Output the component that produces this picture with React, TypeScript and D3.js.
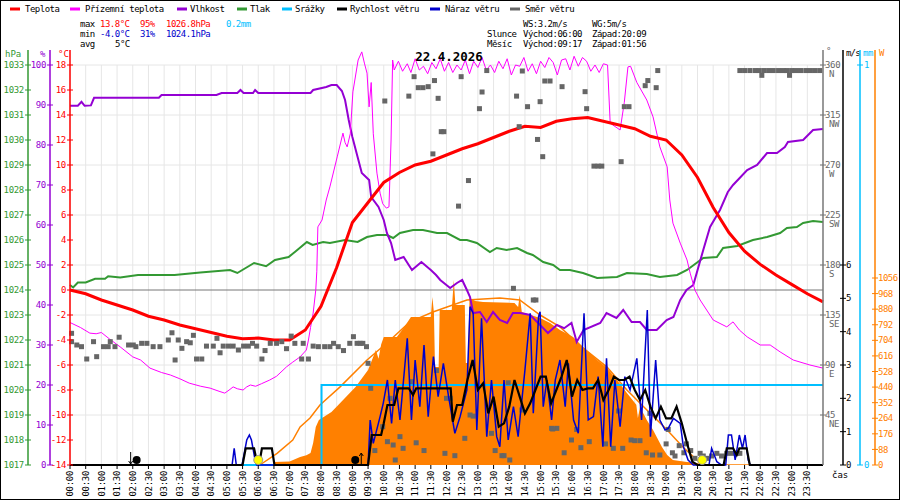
import React from "react";
import * as d3 from "d3";

type P = [number, number];

// times are minutes after midnight
const tempMin = d3.range(0, 1441, 30);
const tempC = [0, -0.3, -0.8, -1.2, -1.6, -2.1, -2.4, -2.8, -3.1, -3.4, -3.7, -3.9, -3.85, -4.0, -4.0, -3.2, -1.3, 1.8, 5.4, 7.0, 8.6, 9.4, 10.0, 10.3, 10.8, 11.3, 11.7, 12.2, 12.7, 13.1, 13.0, 13.5, 13.7, 13.8, 13.5, 13.2, 12.9, 12.3, 12.0, 10.8, 9.0, 6.6, 4.6, 3.1, 2.05, 1.2, 0.45, -0.3, -0.95];

const groundTemp: P[] = [
  [0, -2.6], [20, -3.0], [38, -3.45], [50, -3.5], [60, -3.4], [75, -3.9], [96, -4.55], [120, -5.35], [135, -5.6], [153, -6.25],
  [175, -6.6], [192, -6.8], [210, -7.1], [228, -7.45], [250, -7.7], [268, -7.85], [285, -8.1], [296, -8.25], [306, -7.95], [312, -7.75],
  [320, -7.9], [331, -8.0], [338, -7.75], [345, -7.6], [355, -7.7], [366, -7.5], [382, -7.2], [395, -6.9], [414, -6.15], [425, -5.8],
  [440, -5.35], [452, -4.8], [456, -4.0], [460, -3.0], [465, -1.85], [470, 0.0], [472, 1.5], [474, 5.05], [482, 5.6], [490, 7.2],
  [497, 8.25], [511, 10.65], [522, 12.55], [526, 11.8], [530, 11.45], [536, 12.5], [541, 15.85], [551, 18.4], [558, 19.05], [563, 18.15],
  [568, 17.35], [572, 14.65], [576, 16.6], [580, 12.5], [587, 9.35], [593, 7.75], [598, 6.9], [605, 6.55], [610, 6.65], [614, 12.0],
  [617, 18.4], [620, 17.6], [628, 18.3], [636, 17.5], [645, 18.1], [652, 17.4], [660, 18.5], [668, 17.6], [676, 17.9], [684, 17.3],
  [692, 18.2], [700, 17.7], [708, 18.5], [716, 17.5], [724, 18.2], [732, 17.4], [740, 18.0], [748, 17.6], [756, 18.4], [764, 17.3],
  [772, 18.3], [780, 17.8], [788, 18.6], [796, 17.6], [804, 18.0], [812, 17.4], [820, 18.3], [828, 17.7], [836, 18.5], [844, 17.2],
  [852, 18.0], [860, 17.9], [868, 18.6], [876, 17.5], [884, 18.1], [892, 17.3], [900, 18.3], [908, 17.8], [916, 18.6], [924, 18.2],
  [932, 17.2], [940, 18.4], [948, 18.5], [956, 17.6], [964, 18.7], [972, 17.9], [980, 18.6], [988, 18.3], [996, 17.5], [1004, 18.0],
  [1012, 17.4], [1020, 18.1], [1028, 18.0], [1033, 13.35], [1052, 12.8], [1060, 15.0], [1067, 17.85], [1072, 17.9], [1084, 16.6], [1103, 15.2],
  [1115, 13.85], [1128, 11.45], [1142, 9.85], [1147, 7.2], [1153, 5.35], [1167, 3.75], [1180, 2.4], [1186, 1.35], [1195, 0], [1205, -0.8],
  [1230, -2.4], [1256, -2.95], [1268, -2.55], [1280, -3.2], [1295, -3.75], [1320, -4.4], [1339, -4.4], [1358, -4.95], [1383, -5.6], [1415, -6.0],
  [1440, -6.25],
];

const humidity: P[] = [
  [0, 89.8], [15, 89.8], [22, 90.8], [28, 89.8], [40, 89.9], [46, 91.8], [170, 91.8], [175, 92.5], [280, 92.5], [290, 93.0],
  [320, 93.0], [326, 93.75], [332, 93.0], [350, 93.0], [354, 93.75], [360, 93.0], [460, 93.0], [465, 93.75], [490, 94.5], [500, 95],
  [510, 95], [520, 93.5], [526, 91.25], [533, 86.25], [540, 82], [550, 77], [558, 73], [572, 71.25], [576, 67], [590, 64.5],
  [600, 61.25], [606, 58], [614, 55.5], [622, 51.25], [638, 52], [654, 48.75], [672, 50.75], [690, 48.75], [700, 47.5], [708, 46.25],
  [727, 44.25], [740, 45.5], [750, 46.25], [759, 43.75], [765, 42], [771, 38], [784, 38.25], [797, 35.75], [809, 38.25], [822, 36.25],
  [836, 35.5], [847, 38], [861, 38], [880, 37.5], [899, 35], [914, 33], [931, 35], [945, 34.2], [959, 35.5], [969, 30.75],
  [982, 33.75], [1014, 35.5], [1026, 38], [1045, 36.75], [1058, 38.75], [1074, 35.75], [1090, 35.75], [1103, 33.75], [1122, 33.75], [1141, 36.25],
  [1154, 37], [1167, 41.25], [1179, 43.75], [1192, 45], [1211, 53.75], [1224, 59.5], [1243, 63.75], [1258, 68.25], [1268, 70], [1295, 73.75],
  [1314, 75], [1333, 78], [1352, 78], [1367, 79.5], [1373, 80.75], [1402, 81.25], [1421, 83.75], [1440, 84],
];

const pressure: P[] = [
  [0, 1024.2], [6, 1024.1], [15, 1024.3], [30, 1024.3], [48, 1024.45], [67, 1024.45], [73, 1024.55], [96, 1024.5], [130, 1024.6], [200, 1024.6],
  [249, 1024.7], [306, 1024.8], [320, 1024.68], [352, 1025.08], [375, 1024.95], [392, 1025.2], [418, 1025.32], [430, 1025.52], [453, 1025.92], [464, 1025.8],
  [484, 1025.92], [497, 1025.88], [526, 1026.0], [550, 1025.92], [568, 1026.12], [587, 1026.2], [606, 1026.2], [618, 1026.08], [631, 1026.28], [656, 1026.4],
  [675, 1026.4], [702, 1026.28], [721, 1026.28], [746, 1026.0], [759, 1026.0], [778, 1025.88], [803, 1025.52], [816, 1025.68], [835, 1025.6], [855, 1025.68],
  [874, 1025.48], [885, 1025.4], [905, 1025.12], [924, 1025.0], [937, 1024.8], [956, 1024.8], [981, 1024.68], [1008, 1024.48], [1046, 1024.52], [1065, 1024.68],
  [1103, 1024.64], [1128, 1024.52], [1161, 1024.6], [1180, 1024.8], [1211, 1025.28], [1237, 1025.32], [1249, 1025.68], [1276, 1025.76], [1306, 1026.0], [1333, 1026.12],
  [1358, 1026.28], [1371, 1026.48], [1390, 1026.52], [1402, 1026.68], [1421, 1026.76], [1440, 1026.72],
];

const rain: P[] = [[0, 0], [481, 0.2], [1440, 0.2]];

const windSpeed: P[] = [
  [0, 0], [330, 0], [336, 0.5], [352, 0.5], [358, 0.05], [362, 0.05], [367, 0.5], [386, 0.5], [391, 0], [570, 0],
  [577, 0.9], [595, 0.9], [600, 1.25], [607, 1.8], [620, 1.8], [628, 2.3], [648, 2.3], [656, 2.1], [662, 2.3], [728, 2.3],
  [732, 1.3], [740, 1.8], [750, 1.8], [760, 2.55], [770, 3.15], [780, 2.25], [790, 2.45], [800, 1.55], [810, 2.05], [820, 1.15],
  [830, 1.25], [840, 1.75], [850, 2.55], [860, 2.05], [870, 1.55], [880, 1.85], [890, 2.25], [900, 2.65], [910, 2.65], [920, 1.85],
  [930, 2.25], [940, 2.65], [950, 3.15], [960, 2.05], [970, 2.55], [980, 2.25], [990, 2.3], [1000, 2.3], [1010, 2.55], [1020, 1.95],
  [1030, 2.25], [1040, 2.65], [1050, 2.55], [1060, 2.55], [1070, 2.65], [1080, 2.25], [1090, 1.95], [1100, 2.25], [1110, 1.75], [1120, 1.4],
  [1130, 1.75], [1140, 1.4], [1150, 1.4], [1160, 1.75], [1170, 1.25], [1180, 0.65], [1190, 0.1], [1200, 0], [1250, 0], [1256, 0.5],
  [1268, 0.5], [1275, 0.3], [1280, 0.5], [1294, 0.5], [1300, 0], [1440, 0],
];

const windGust: P[] = [
  [0, 0], [310, 0], [314, 0.5], [318, 0], [329, 0], [338, 0.75], [343, 0.9], [347, 0.75], [354, 0.15], [357, 0],
  [570, 0], [574, 1.35], [580, 0.65], [593, 1.45], [599, 1.85], [607, 2.55], [615, 1.25], [622, 2.55], [631, 1.35], [645, 3.8],
  [653, 1.35], [660, 3.15], [669, 1.75], [677, 3.6], [685, 1.45], [695, 3.25], [704, 2.05], [714, 3.05], [724, 2.05], [736, 0.95],
  [746, 1.45], [759, 2.25], [765, 4.75], [771, 4.55], [778, 1.05], [787, 4.4], [797, 0.85], [806, 2.55], [816, 0.85], [822, 0.55],
  [830, 2.55], [838, 0.75], [848, 1.75], [857, 0.85], [870, 2.85], [880, 4.55], [886, 1.55], [896, 4.45], [899, 4.6], [905, 1.75],
  [912, 2.55], [921, 1.35], [928, 2.55], [937, 3.15], [947, 1.75], [953, 3.05], [963, 1.35], [972, 0.95], [983, 4.55], [991, 1.35],
  [1001, 1.45], [1010, 2.65], [1019, 0.55], [1026, 3.2], [1034, 0.55], [1042, 2.55], [1052, 1.15], [1061, 2.65], [1071, 2.25], [1084, 3.2],
  [1093, 1.35], [1104, 4.65], [1110, 0.85], [1120, 3.15], [1128, 1.35], [1138, 1.05], [1144, 1.1], [1154, 1.4], [1167, 1.25], [1173, 0.55],
  [1182, 0.15], [1192, 0], [1222, 0], [1227, 0.5], [1237, 0.1], [1246, 0], [1254, 0], [1259, 0.9], [1265, 0.9], [1272, 0.15],
  [1280, 0.9], [1286, 0.5], [1291, 0.9], [1297, 0.15], [1301, 0], [1440, 0],
];

const windDir: P[] = [
  [3, 118.5], [3, 111], [13, 108], [22, 106.5], [32, 95.4], [45, 111], [51, 97.5], [64, 106.5], [73, 106.5], [77, 111],
  [86, 106.5], [94, 115], [112, 108], [121, 108], [126, 106.5], [137, 109.5], [147, 109.5], [159, 106.5], [172, 106.5], [188, 112.5],
  [195, 119], [201, 94.5], [207, 112.5], [214, 105], [223, 111], [230, 110], [236, 116.7], [242, 95.4], [252, 95.4], [261, 107],
  [274, 107], [281, 114], [287, 101], [293, 107], [303, 107], [312, 107], [322, 103.5], [332, 107], [341, 107], [349, 109.5],
  [357, 107], [367, 95.4], [373, 103], [383, 109.5], [395, 109.5], [405, 111], [414, 104.7], [423, 116], [430, 109.5], [443, 95.4],
  [446, 109.5], [456, 95.4], [465, 107], [475, 106.5], [487, 106.5], [497, 106.5], [504, 109.5], [513, 106.5], [523, 103], [535, 109.5],
  [542, 115.5], [549, 109.5], [555, 109.5], [560, 109.5], [567, 106.5],
  [570, 91.5], [575, 69], [583, 13], [598, 34.5], [607, 21], [612, 60], [618, 18], [622, 4.5], [631, 25.5], [637, 15],
  [653, 75], [662, 20], [677, 13], [701, 85], [717, 10.5], [720, 60], [727, 60], [736, 8.4], [755, 24], [765, 45],
  [771, 44], [806, 28.5], [813, 13], [826, 8.4], [830, 8.4], [838, 74], [841, 4.5], [848, 159], [864, 49.5], [886, 148.5],
  [891, 148.5], [921, 33], [931, 33],
  [602, 327.6], [648, 332], [658, 349.5], [666, 339.6], [675, 339.6], [685, 340.5], [697, 346], [704, 330], [710, 300], [715, 300],
  [694, 280], [762, 256], [743, 233], [748, 349.5], [783, 320.7], [788, 335.7], [797, 355], [854, 332], [859, 304.5], [865, 354.6],
  [875, 322.5], [899, 327], [894, 293], [904, 277.5], [908, 345.6], [918, 345.6], [941, 340.5], [985, 336], [988, 320.7], [1002, 269],
  [1010, 269], [1017, 269], [1054, 273], [1060, 322.5], [1069, 322.5], [1100, 341.4], [1105, 346], [1121, 339.6], [1124, 355],
  [1281, 355], [1290, 355], [1300, 355], [1310, 355], [1318, 355], [1323, 350.7], [1327, 355], [1336, 355], [1345, 355], [1355, 355],
  [1364, 355], [1371, 355], [1376, 350.7], [1380, 355], [1388, 355], [1397, 355], [1407, 355], [1416, 355], [1425, 355], [1434, 355],
  [923, 32.4], [945, 11], [959, 22.5], [969, 32], [977, 15.6], [993, 21], [1024, 19], [1039, 15], [1049, 48.6], [1057, 15],
  [1073, 22.5], [1080, 21.9], [1090, 21.9], [1102, 11], [1109, 46.5], [1114, 9], [1128, 9], [1140, 19], [1144, 32], [1152, 11],
  [1157, 8.1], [1165, 17.4], [1174, 11], [1179, 19], [1187, 13], [1195, 6], [1205, 10.5], [1211, 8.1], [1218, 6], [1227, 8.1],
  [1237, 10.5], [1246, 8.1], [1256, 10.5], [1265, 10.5], [1275, 10.5], [1281, 10.5],
];

const solar: P[] = [
  [0, 0], [388, 0], [390, 17], [420, 20], [440, 45], [452, 55], [460, 68], [465, 124], [470, 215], [476, 254],
  [500, 300], [513, 339], [546, 440], [570, 536], [585, 649], [590, 600], [595, 680], [600, 723], [625, 723], [638, 773],
  [652, 836], [690, 836], [693, 949], [696, 858], [698, 553], [705, 553], [707, 875], [730, 875], [734, 1045], [737, 903],
  [755, 903], [757, 576], [761, 576], [764, 943], [775, 926], [790, 920], [850, 915], [857, 892], [860, 960], [864, 864],
  [899, 830], [918, 802], [937, 762], [962, 723], [981, 666], [1008, 593], [1027, 548], [1046, 480], [1065, 406], [1083, 340],
  [1086, 265], [1090, 327], [1103, 254], [1115, 198], [1132, 102], [1142, 56], [1153, 28], [1180, 17], [1199, 11], [1210, 5],
  [1215, 0], [1250, 0], [1252, 4], [1310, 4], [1312, 0], [1440, 0],
];

const clearSky: P[] = [
  [363, 0], [396, 66], [426, 141], [440, 215], [459, 265], [478, 339], [516, 440], [568, 593], [606, 689], [650, 808],
  [694, 864], [721, 892], [759, 932], [822, 943], [860, 932], [899, 847], [937, 780], [981, 661], [1027, 553], [1065, 424],
  [1109, 294], [1142, 198], [1172, 102], [1199, 28], [1211, 0],
];

const pressureTicks = d3.range(1017, 1034);
const humidityTicks = d3.range(0, 101, 10);
const tempTicks = d3.range(-14, 19, 2);
const dirTicks = [45, 90, 135, 180, 225, 270, 315, 360];
const dirNames = ["NE", "E", "SE", "S", "SW", "W", "NW", "N"];
const speedTicks = [0, 1, 2, 3, 4, 5, 6];
const rainTicks = [0, 1];
const solarTicks = d3.range(0, 1057, 88);
const timeTicks = d3.range(0, 1440, 30);

const legend = [
  { label: "Teplota", color: "#ff0000", x: 10, tx: 25 },
  { label: "Přízemní teplota", color: "#ff00ff", x: 70, tx: 85 },
  { label: "Vlhkost", color: "#9400d3", x: 177, tx: 190 },
  { label: "Tlak", color: "#339933", x: 237, tx: 250 },
  { label: "Srážky", color: "#00bfff", x: 282, tx: 295 },
  { label: "Rychlost větru", color: "#000000", x: 337, tx: 350 },
  { label: "Náraz větru", color: "#0000cc", x: 430, tx: 445 },
  { label: "Směr větru", color: "#666666", x: 510, tx: 525 },
];

const sunrise = 360;
const sunset = 1209;
const moonrise = 557;
const moonset = 116;

const L = 70, R = 823, T = 65, B = 465;
const FONT = "'DejaVu Sans Mono', monospace";

const x = d3.scaleLinear().domain([0, 1440]).range([L, R]);
const yT = d3.scaleLinear().domain([-14, 18]).range([B, T]);
const yH = d3.scaleLinear().domain([0, 100]).range([B, T]);
const yP = d3.scaleLinear().domain([1017, 1033]).range([B, T]);
const yD = d3.scaleLinear().domain([0, 360]).range([B, T]);
const yS = d3.scaleLinear().domain([0, 6]).range([B, 265]);
const yR = d3.scaleLinear().domain([0, 1]).range([B, T]);
const yW = d3.scaleLinear().domain([0, 1056]).range([B, 278]);

function mkLine(ys: d3.ScaleLinear<number, number>, curve: d3.CurveFactory = d3.curveLinear) {
  return d3.line<P>().x((d) => x(d[0])).y((d) => ys(d[1])).curve(curve);
}

const fmtTime = (m: number) => d3.format("02d")(Math.floor(m / 60)) + ":" + d3.format("02d")(m % 60);

export default function App() {
  const tempPts: P[] = tempMin.map((m, i) => [m, tempC[i]]);
  const solarArea = d3.area<P>().x((d) => x(d[0])).y0(B).y1((d) => yW(d[1]));

  return (
    <svg width={900} height={500} style={{ position: "absolute", left: 0, top: 0, background: "#fff" }} fontFamily={FONT} fontSize={9}>
      <rect x={0.5} y={0.5} width={899} height={499} fill="#fff" stroke="#000" />

      {/* legend */}
      {legend.map((d) => (
        <g key={d.label}>
          <line x1={d.x} x2={d.x + 10} y1={9} y2={9} stroke={d.color} strokeWidth={3} />
          <text x={d.tx} y={12} fill="#000" letterSpacing={-0.5}>{d.label}</text>
        </g>
      ))}

      {/* stats */}
      <g letterSpacing={-0.5}>
        <text x={80} y={27}>max</text>
        <text x={100} y={27} fill="#ff0000">13.8°C</text>
        <text x={140} y={27} fill="#ff0000">95%</text>
        <text x={166} y={27} fill="#ff0000">1026.8hPa</text>
        <text x={226} y={27} fill="#00bfff">0.2mm</text>
        <text x={80} y={37}>min</text>
        <text x={100} y={37} fill="#0000cc">-4.0°C</text>
        <text x={140} y={37} fill="#0000cc">31%</text>
        <text x={166} y={37} fill="#0000cc">1024.1hPa</text>
        <text x={80} y={47}>avg</text>
        <text x={115} y={47}>5°C</text>
        <text x={523} y={27}>WS:3.2m/s</text>
        <text x={592} y={27}>WG:5m/s</text>
        <text x={487} y={37}>Slunce</text>
        <text x={523} y={37}>Východ:06:00</text>
        <text x={592} y={37}>Západ:20:09</text>
        <text x={487} y={47}>Měsíc</text>
        <text x={523} y={47}>Východ:09:17</text>
        <text x={592} y={47}>Západ:01:56</text>
      </g>

      {/* grid */}
      {timeTicks.map((m) => (
        <line key={"vg" + m} x1={x(m)} x2={x(m)} y1={T} y2={B} stroke="#e6e6e6" />
      ))}
      {dirTicks.map((d) => (
        <line key={"hg" + d} x1={L} x2={R} y1={yD(d)} y2={yD(d)} stroke="#e6e6e6" />
      ))}
      <line x1={L} x2={R} y1={yT(0)} y2={yT(0)} stroke="#777" />

      {/* solar */}
      <path d={solarArea(solar) || ""} fill="#ff8000" />
      <path d={mkLine(yW)(clearSky) || ""} fill="none" stroke="#ff8000" strokeWidth={1.5} />

      {/* rain */}
      <path d={mkLine(yR, d3.curveStepAfter)(rain) || ""} fill="none" stroke="#00bfff" strokeWidth={2} />

      {/* pressure, humidity, ground temp, temp */}
      <path d={mkLine(yP)(pressure) || ""} fill="none" stroke="#339933" strokeWidth={2} />
      <path d={mkLine(yH)(humidity) || ""} fill="none" stroke="#9400d3" strokeWidth={2} />
      <path d={mkLine(yT)(groundTemp) || ""} fill="none" stroke="#ff00ff" strokeWidth={1} />
      <path d={mkLine(yT)(tempPts) || ""} fill="none" stroke="#ff0000" strokeWidth={3} />

      {/* wind direction */}
      {windDir.map((d, i) => (
        <rect key={"wd" + i} x={x(d[0]) - 2.5} y={yD(d[1]) - 2.5} width={5} height={5} fill="#666" />
      ))}

      {/* wind */}
      <path d={mkLine(yS)(windGust) || ""} fill="none" stroke="#0000cc" strokeWidth={1.5} />
      <path d={mkLine(yS)(windSpeed) || ""} fill="none" stroke="#000" strokeWidth={2.2} />

      {/* sun & moon */}
      <circle cx={x(sunrise)} cy={460} r={4.5} fill="#ffff00" stroke="#999" />
      <circle cx={x(sunset)} cy={460} r={4.5} fill="#ffff00" stroke="#999" />
      <circle cx={x(moonset) + 6} cy={460} r={4} fill="#000" />
      <path d={`M${x(moonset)},452V464M${x(moonset) - 2},461L${x(moonset)},464L${x(moonset) + 2},461`} stroke="#000" fill="none" />
      <circle cx={x(moonrise) - 6} cy={460} r={4} fill="#000" />
      <path d={`M${x(moonrise)},453V465M${x(moonrise) - 2},456L${x(moonrise)},453L${x(moonrise) + 2},456`} stroke="#000" fill="none" />

      {/* title */}
      <text x={449} y={61} textAnchor="middle" fontSize={12.5} fontWeight="bold">22.4.2026</text>

      {/* left axes */}
      <line x1={28} x2={28} y1={50} y2={B} stroke="#339933" strokeWidth={1.5} />
      <text x={5} y={57} fill="#339933">hPa</text>
      {pressureTicks.map((v) => (
        <g key={"p" + v}>
          <line x1={25} x2={31} y1={yP(v)} y2={yP(v)} stroke="#339933" />
          <text x={24} y={yP(v)} dy="0.35em" textAnchor="end" fill="#339933" letterSpacing={-0.3}>{v}</text>
        </g>
      ))}
      <line x1={50} x2={50} y1={50} y2={B} stroke="#9400d3" strokeWidth={1.5} />
      <text x={40} y={57} fill="#9400d3">%</text>
      {humidityTicks.map((v) => (
        <g key={"h" + v}>
          <line x1={47} x2={53} y1={yH(v)} y2={yH(v)} stroke="#9400d3" />
          <text x={46} y={yH(v)} dy="0.35em" textAnchor="end" fill="#9400d3" letterSpacing={-0.3}>{v}</text>
        </g>
      ))}
      <line x1={L} x2={L} y1={50} y2={B} stroke="#ff0000" strokeWidth={1.5} />
      <text x={58} y={57} fill="#ff0000">°C</text>
      {tempTicks.map((v) => (
        <g key={"t" + v}>
          <line x1={67} x2={73} y1={yT(v)} y2={yT(v)} stroke="#ff0000" />
          <text x={66} y={yT(v)} dy="0.35em" textAnchor="end" fill="#ff0000" letterSpacing={-0.3}>{v}</text>
        </g>
      ))}

      {/* right axes */}
      <line x1={R} x2={R} y1={50} y2={B} stroke="#777" strokeWidth={1.5} />
      <text x={826} y={54} fill="#666">°</text>
      {dirTicks.map((v, i) => (
        <g key={"d" + v}>
          <line x1={820} x2={826} y1={yD(v)} y2={yD(v)} stroke="#777" />
          <text x={825} y={yD(v)} dy="0.35em" fill="#666" letterSpacing={-0.3}>{v}</text>
          <text x={829} y={yD(v) + 9} dy="0.35em" fill="#666" letterSpacing={-0.3}>{dirNames[i]}</text>
        </g>
      ))}
      <line x1={843} x2={843} y1={50} y2={B} stroke="#000" strokeWidth={1.5} />
      <text x={846} y={56} fill="#000" letterSpacing={-0.8}>m/s</text>
      {speedTicks.map((v) => (
        <g key={"s" + v}>
          <line x1={840} x2={846} y1={yS(v)} y2={yS(v)} stroke="#000" />
          <text x={846} y={yS(v)} dy="0.35em" fill="#000">{v}</text>
        </g>
      ))}
      <line x1={860} x2={860} y1={50} y2={B} stroke="#00bfff" strokeWidth={1.5} />
      <text x={863} y={56} fill="#00bfff" letterSpacing={-0.5}>mm</text>
      {rainTicks.map((v) => (
        <g key={"r" + v}>
          <line x1={857} x2={863} y1={yR(v)} y2={yR(v)} stroke="#00bfff" />
          <text x={864} y={yR(v)} dy="0.35em" fill="#00bfff">{v}</text>
        </g>
      ))}
      <line x1={875} x2={875} y1={50} y2={B} stroke="#ff8000" strokeWidth={1.5} />
      <text x={879} y={56} fill="#ff8000">W</text>
      {solarTicks.map((v) => (
        <g key={"w" + v}>
          <line x1={872} x2={878} y1={yW(v)} y2={yW(v)} stroke="#ff8000" />
          <text x={878} y={yW(v)} dy="0.35em" fill="#ff8000" letterSpacing={-0.5}>{v}</text>
        </g>
      ))}

      {/* time axis */}
      {timeTicks.map((m) => (
        <g key={"xt" + m}>
          <line x1={x(m)} x2={x(m)} y1={B} y2={469} stroke="#000" />
          <text transform={`translate(${x(m)},471) rotate(-90)`} dy="0.35em" textAnchor="end" fill="#000" letterSpacing={-0.3}>{fmtTime(m)}</text>
        </g>
      ))}
      <text x={832} y={478} fill="#000">čas</text>
    </svg>
  );
}
